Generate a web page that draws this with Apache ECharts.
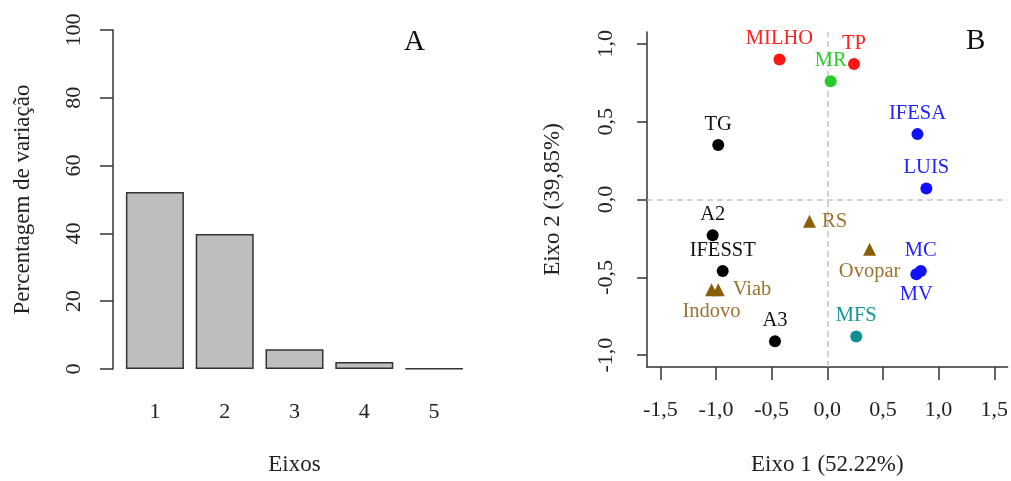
<!DOCTYPE html>
<html>
<head>
<meta charset="utf-8">
<script src="https://cdn.jsdelivr.net/npm/echarts@6/dist/echarts.min.js"></script>
<style>
html,body{margin:0;padding:0;background:#fff;}
#chart{width:1011px;height:481px;}
</style>
</head>
<body>
<div id="chart"></div>
<script>
// painel A - percentagem de variacao por eixo
var barCats = ['1', '2', '3', '4', '5'];
var barValues = [52.2, 39.8, 5.8, 2.1, 0.1];

// painel B - escores nos eixos 1 e 2
var ptNames = ['MILHO', 'TP', 'MR', 'IFESA', 'LUIS', 'TG', 'A2', 'IFESST', 'A3', 'MFS', 'MC', 'MV', 'RS', 'Ovopar', 'Viab', 'Indovo'];
var ptX = [-0.43, 0.24, 0.03, 0.81, 0.89, -0.98, -1.03, -0.94, -0.47, 0.26, 0.84, 0.80, -0.16, 0.38, -0.98, -1.04];
var ptY = [0.90, 0.87, 0.76, 0.42, 0.07, 0.35, -0.23, -0.46, -0.91, -0.88, -0.46, -0.48, -0.14, -0.32, -0.58, -0.58];
var ptGroup = ['red', 'red', 'green', 'blue', 'blue', 'black', 'black', 'black', 'black', 'teal', 'blue', 'blue', 'brown', 'brown', 'brown', 'brown'];
var xTicksB = [-1.5, -1, -0.5, 0, 0.5, 1, 1.5];
var yTicksB = [-1, -0.5, 0, 0.5, 1];

var groupColor = {
	'red': ['#ff1414', '#ff2020'],
	'green': ['#25cc25', '#2ccc2c'],
	'blue': ['#1010ff', '#2222ff'],
	'black': ['#000000', '#111111'],
	'teal': ['#0f8f8f', '#159595'],
	'brown': ['#8b5e0c', '#9a7430']
};
// onde fica o rotulo de cada ponto
var labelPos = {
	'MV': ['bottom', 4],
	'Ovopar': ['bottom', 5],
	'Indovo': ['bottom', 5],
	'RS': ['right', 6],
	'Viab': ['right', 8]
};

var serif = 'Liberation Serif';
var axisCol = '#333';

function fmtComma(v){
	return v.toFixed(1).replace('.', ',');
}

var groups = ['black', 'red', 'green', 'blue', 'teal', 'brown'];
var scatterSeries = [];
for (var g = 0; g < groups.length; g++) {
	var items = [];
	for (var i = 0; i < ptNames.length; i++) {
		if (ptGroup[i] != groups[g]) continue;
		var lp = labelPos[ptNames[i]] || ['top', 4];
		items.push({
			name: ptNames[i],
			value: [ptX[i], ptY[i]],
			label: {position: lp[0], distance: lp[1]}
		});
	}
	scatterSeries.push({
		type: 'scatter',
		xAxisIndex: 1,
		yAxisIndex: 1,
		data: items,
		symbol: groups[g] == 'brown' ? 'triangle' : 'circle',
		symbolSize: groups[g] == 'brown' ? 13 : 12,
		itemStyle: {color: groupColor[groups[g]][0], opacity: 1},
		label: {
			show: true,
			formatter: '{b}',
			color: groupColor[groups[g]][1],
			fontFamily: serif,
			fontSize: 20.5
		},
		emphasis: {disabled: true},
		z: 5
	});
}

// linhas tracejadas no zero
scatterSeries.push({
	type: 'scatter',
	xAxisIndex: 1,
	yAxisIndex: 1,
	data: [],
	markLine: {
		silent: true,
		symbol: 'none',
		label: {show: false},
		lineStyle: {color: '#c4c4c4', type: [6, 4], width: 1.5},
		data: [{xAxis: 0}, {yAxis: 0}]
	},
	z: 1
});

var myChart = echarts.init(document.getElementById('chart'));
var option = {
	backgroundColor: '#fff',
	animation: false,
	textStyle: {fontFamily: serif},
	grid: [
		{left: 120, top: 30, width: 349, height: 341},
		{left: 647, top: 32, right: 1, height: 339}
	],
	xAxis: [
		{
			gridIndex: 0,
			type: 'category',
			data: barCats,
			axisLine: {show: false},
			axisTick: {show: false},
			axisLabel: {margin: 32, fontSize: 22, color: '#222', fontFamily: serif},
			name: 'Eixos',
			nameLocation: 'middle',
			nameGap: 84,
			nameTextStyle: {fontSize: 23, color: '#222', fontFamily: serif}
		},
		{
			gridIndex: 1,
			type: 'value',
			min: -1.62,
			max: 1.62,
			axisLine: {show: true, onZero: false, lineStyle: {color: axisCol, width: 1.5}},
			axisTick: {show: true, length: 13, customValues: xTicksB, lineStyle: {color: axisCol, width: 1.5}},
			axisLabel: {customValues: xTicksB, formatter: fmtComma, margin: 32, fontSize: 22, color: '#222', fontFamily: serif},
			splitLine: {show: false},
			name: 'Eixo 1 (52.22%)',
			nameLocation: 'middle',
			nameGap: 86,
			nameTextStyle: {fontSize: 23, color: '#222', fontFamily: serif}
		}
	],
	yAxis: [
		{
			gridIndex: 0,
			type: 'value',
			min: 0,
			max: 100,
			interval: 20,
			offset: 7,
			axisLine: {show: true, lineStyle: {color: axisCol, width: 1.5}},
			axisTick: {show: true, length: 13, lineStyle: {color: axisCol, width: 1.5}},
			axisLabel: {rotate: 90, margin: 28, fontSize: 22, color: '#222', fontFamily: serif},
			splitLine: {show: false},
			name: 'Percentagem de variação',
			nameLocation: 'middle',
			nameGap: 79,
			nameTextStyle: {fontSize: 23, color: '#222', fontFamily: serif}
		},
		{
			gridIndex: 1,
			type: 'value',
			min: -1.076,
			max: 1.076,
			axisLine: {show: true, onZero: false, lineStyle: {color: axisCol, width: 1.5}},
			axisTick: {show: true, length: 10, customValues: yTicksB, lineStyle: {color: axisCol, width: 1.5}},
			axisLabel: {rotate: 90, customValues: yTicksB, formatter: fmtComma, margin: 30, fontSize: 22, color: '#222', fontFamily: serif},
			splitLine: {show: false},
			name: 'Eixo 2 (39,85%)',
			nameLocation: 'middle',
			nameGap: 83,
			nameTextStyle: {fontSize: 23, color: '#222', fontFamily: serif}
		}
	],
	graphic: [
		{type: 'text', left: 404, top: 28, style: {text: 'A', fontSize: 29, fontFamily: serif, fill: '#111'}},
		{type: 'text', left: 966, top: 27, style: {text: 'B', fontSize: 29, fontFamily: serif, fill: '#111'}}
	],
	series: [
		{
			type: 'bar',
			xAxisIndex: 0,
			yAxisIndex: 0,
			data: barValues,
			barWidth: 58,
			itemStyle: {color: '#bebebe', borderColor: '#333', borderWidth: 1.5},
			emphasis: {disabled: true}
		}
	].concat(scatterSeries)
};
myChart.setOption(option);
</script>
</body>
</html>
